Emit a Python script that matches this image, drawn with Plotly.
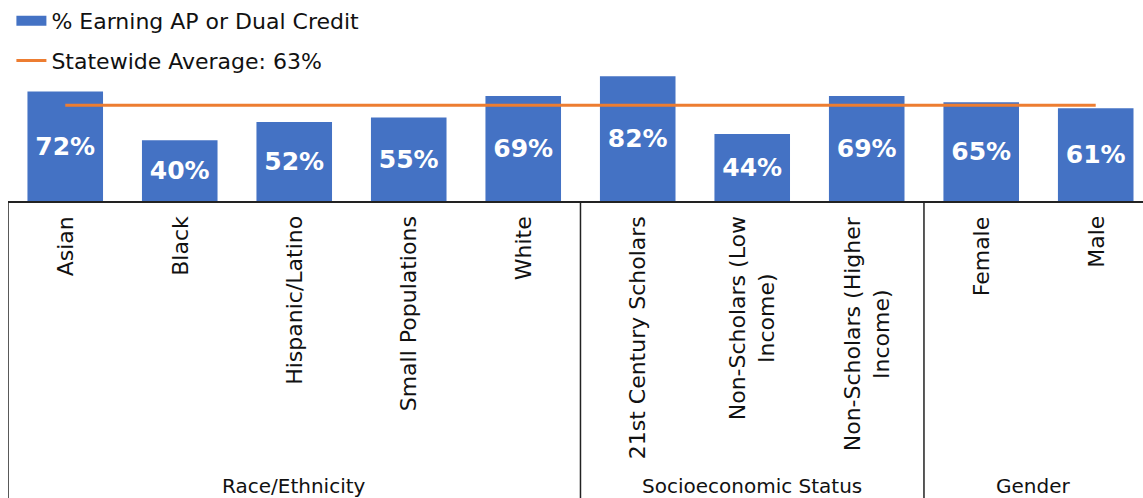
import plotly.graph_objects as go

categories = ["Asian", "Black", "Hispanic/Latino", "Small Populations", "White",
              "21st Century Scholars", "Non-Scholars (Low Income)", "Non-Scholars (Higher Income)",
              "Female", "Male"]
tick_labels = ["Asian", "Black", "Hispanic/Latino", "Small Populations", "White",
               "21st Century Scholars", "Non-Scholars (Low<br>Income)", "Non-Scholars (Higher<br>Income)",
               "Female", "Male"]
values = [72, 40, 52, 55, 69, 82, 44, 69, 65, 61]
statewide_avg = 63
groups = ["Race/Ethnicity", "Socioeconomic Status", "Gender"]
group_members = [[0, 1, 2, 3, 4], [5, 6, 7], [8, 9]]

FONT = "DejaVu Sans"
BLUE = "#4472C4"
ORANGE = "#ED7D31"
TXT = "#111111"

fig = go.Figure()
fig.add_trace(go.Bar(
    x=categories, y=values, name="% Earning AP or Dual Credit", showlegend=False,
    marker=dict(color=BLUE, line=dict(width=0)),
    text=[f"{v}%" for v in values], textposition="inside", insidetextanchor="middle",
    textangle=0,
    textfont=dict(family=FONT, size=25, color="white", weight="bold"),
))
# legend swatch for the bars (wide rectangle like the original)
fig.add_trace(go.Scatter(
    x=[None], y=[None], mode="lines", name="% Earning AP or Dual Credit", legendgroup="a",
    line=dict(color=BLUE, width=10),
))
fig.add_trace(go.Scatter(
    x=categories, y=[statewide_avg] * len(categories), mode="lines", legendgroup="b",
    name=f"Statewide Average: {statewide_avg}%",
    line=dict(color=ORANGE, width=3),
))

# category tick labels (rotated, centered multi-line)
for cat, lab in zip(categories, tick_labels):
    fig.add_annotation(x=cat, xref="x", y=-0.065, yref="paper", text=lab, textangle=-90,
                       showarrow=False, xanchor="center", yanchor="top", align="center",
                       font=dict(family=FONT, size=22, color=TXT))

# group labels and dividers
right_edge = 9.413
for g, mem in zip(groups, group_members):
    lo, hi = mem[0] - 0.5, min(mem[-1] + 0.5, right_edge)
    fig.add_annotation(x=(lo + hi) / 2, xref="x", y=-1.35, yref="paper", text=g,
                       showarrow=False, xanchor="center", yanchor="top",
                       font=dict(family=FONT, size=20, color=TXT))
    fig.add_shape(type="line", xref="x", yref="paper", x0=lo, x1=lo, y0=0, y1=-1.5,
                  line=dict(color="#222", width=1.5))

fig.update_layout(
    width=1143, height=498,
    margin=dict(l=8, r=0, t=0, b=297),
    paper_bgcolor="white", plot_bgcolor="white",
    bargap=0.34,
    showlegend=True,
    legend=dict(x=0.003, y=1.0, xanchor="left", yanchor="top",
                font=dict(family=FONT, size=22, color=TXT), bgcolor="rgba(0,0,0,0)",
                itemwidth=30, traceorder="grouped", tracegroupgap=8),
    xaxis=dict(type="category", range=[-0.5, right_edge], showticklabels=False, ticks="",
               showline=True, linecolor="#222", linewidth=1.5, showgrid=False, zeroline=False),
    yaxis=dict(range=[0, 132.2], visible=False, showgrid=False, zeroline=False),
)

fig.write_html("out.html", config={"displayModeBar": False},
               post_script="document.body.style.margin='0';")
